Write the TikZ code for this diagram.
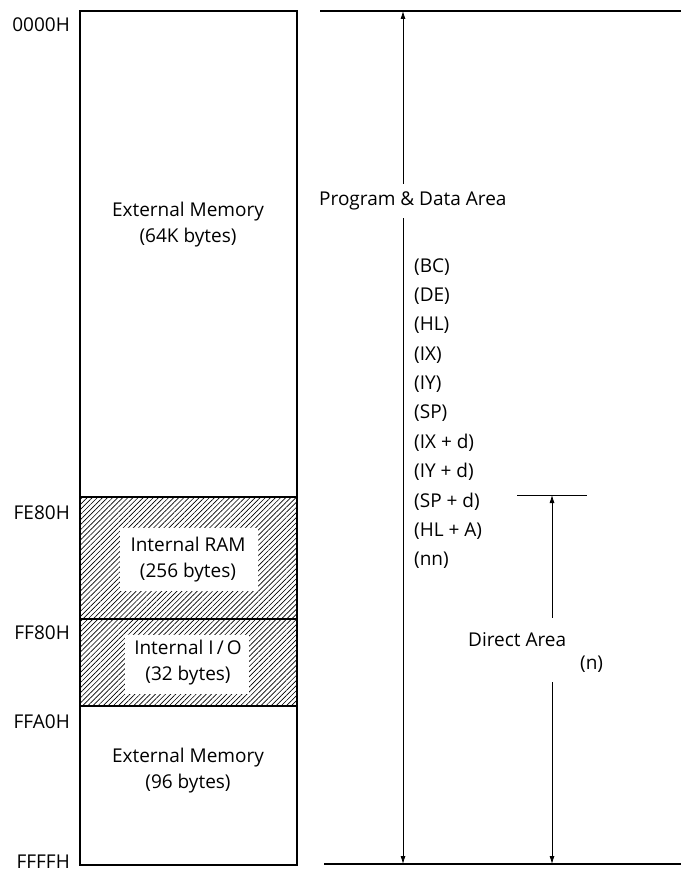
\documentclass[tikz,border=0pt]{standalone}
\usepackage{fontspec}
\setmainfont{Open Sans}
\usetikzlibrary{arrows.meta,patterns.meta}
\begin{document}
\begin{tikzpicture}[x=1pt,y=-1pt,
  txt/.style={font=\fontsize{19}{26}\selectfont, inner sep=0pt},
  addr/.style={txt, anchor=east},
  item/.style={txt, anchor=west},
  frame/.style={line width=1.1pt},
  arr/.style={line width=0.8pt, {Latex[length=8pt,width=5pt]}-{Latex[length=8pt,width=5pt]}},
  hatch/.style={pattern={Lines[angle=45,distance=3.6pt,line width=0.65pt]}},
  whitebox/.style={fill=white, inner sep=0pt}]
\useasboundingbox (0,0) rectangle (681,875);

% hatched regions
\fill[hatch] (80,497) rectangle (297,706);
\fill[white] (120,528) rectangle (258,591);
\fill[white] (125,635) rectangle (249,694);

% memory box
\draw[frame] (80,11) rectangle (297,865);
\draw[frame] (80,497) -- (297,497);
\draw[frame] (80,619) -- (297,619);
\draw[frame] (80,706) -- (297,706);

% box texts
\node[txt, align=center] (ext1) at (188,225) {External Memory\\(64K bytes)};
\node[txt, align=center] (ram) at (188,560) {Internal RAM\\(256 bytes)};
\node[txt, align=center] (io) at (188,663) {Internal I\,/\,O\\(32 bytes)};
\node[txt, align=center] (ext2) at (188,771) {External Memory\\(96 bytes)};

% addresses
\node[addr] (a0) at (70,25) {0000H};
\node[addr] (a1) at (70,513) {FE80H};
\node[addr] (a2) at (70,633) {FF80H};
\node[addr] (a3) at (70,722) {FFA0H};
\node[addr] (a4) at (70,862) {FFFFH};

% horizontal reference lines
\coordinate (tl) at (320,11);
\coordinate (tr) at (681,11);
\coordinate (bl) at (324,864);
\coordinate (br) at (681,864);
\draw[frame] (tl) -- (tr);
\draw[frame] (bl) -- (br);

% program & data area arrow
\coordinate (pt) at (403,11);
\coordinate (pb) at (403,864);
\draw[arr] (pt) -- (pb);
\node[txt, anchor=west, fill=white, inner ysep=8pt, inner xsep=0pt] (pda) at (319,201) {Program \& Data Area};

% list
\foreach \t [count=\i from 0] in {(BC),(DE),(HL),(IX),(IY),(SP),(IX + d),(IY + d),(SP + d),(HL + A),(nn)}
  \node[item] (it\i) at (414,{267+29.3*\i}) {\t};

% direct area
\coordinate (dl) at (517,495);
\coordinate (dr) at (587,495);
\draw[line width=0.9pt] (dl) -- (dr);
\coordinate (dt) at (552,495);
\coordinate (db) at (552,864);
\draw[arr] (dt) -- (db);
\fill[white] (540,618) rectangle (565,682);
\node[txt, anchor=west] (da) at (468,640) {Direct Area};
\node[txt, anchor=west] (dn) at (580,664) {(n)};
\end{tikzpicture}
\end{document}
